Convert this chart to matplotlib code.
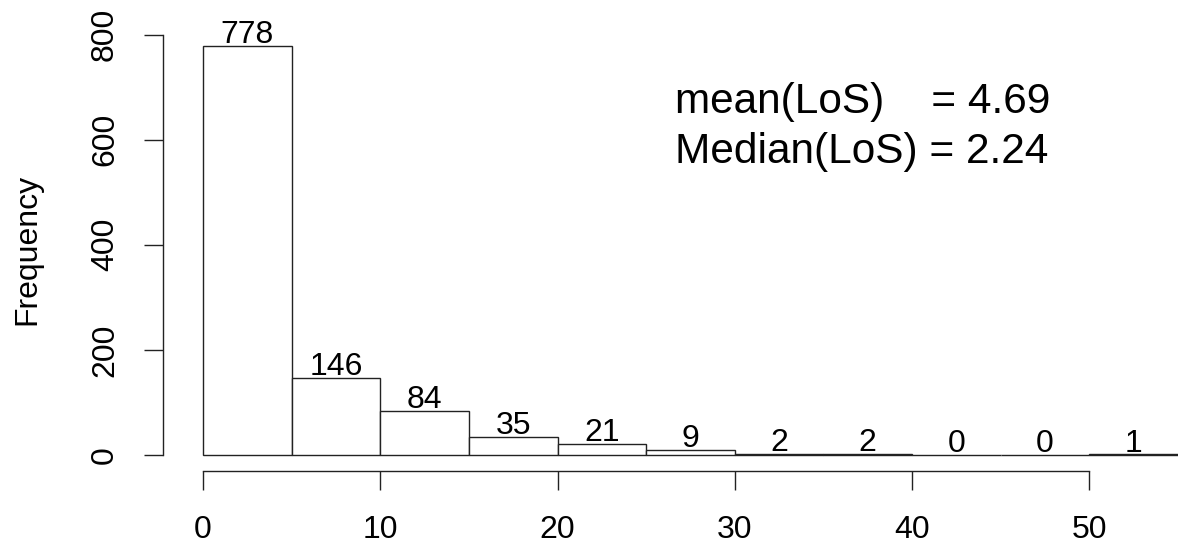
import numpy as np
import matplotlib
matplotlib.use("Agg")
import matplotlib.pyplot as plt

plt.rcParams['font.family'] = ['Liberation Sans', 'DejaVu Sans']

# histogram of length of stay, bins of width 5
bin_edges = [0, 5, 10, 15, 20, 25, 30, 35, 40, 45, 50, 55]
counts = [778, 146, 84, 35, 21, 9, 2, 2, 0, 0, 1]
xticks = [0, 10, 20, 30, 40, 50]
yticks = [0, 200, 400, 600, 800]
stats_lines = ["mean(LoS)    = 4.69", "Median(LoS) = 2.24"]

W, H = 1178, 545
fig = plt.figure(figsize=(W / 100, H / 100), dpi=100)
ax = fig.add_axes([203 / W, (H - 455) / H, 975 / W, (455 - 34.5) / H])

edges = np.array(bin_edges)
lefts = edges[:-1]
widths = np.diff(edges)
ax.bar(lefts, counts, width=widths, align='edge', facecolor='white',
       edgecolor='#222222', linewidth=1.0, clip_on=False)

# count labels above the bars
for x, w, c in zip(lefts, widths, counts):
    ax.annotate(str(c), (x + w / 2, c), xytext=(0, 2), textcoords='offset points',
                ha='center', va='baseline', fontsize=23)

ax.set_xlim(0, 55)
ax.set_ylim(0, 800)

for s in ['top', 'right']:
    ax.spines[s].set_visible(False)
ax.spines['left'].set_position(('outward', 28.8))
ax.spines['bottom'].set_position(('outward', 11.5))
ax.spines['left'].set_bounds(0, 800)
ax.spines['bottom'].set_bounds(0, 50)
for s in ['left', 'bottom']:
    ax.spines[s].set_linewidth(1.0)
    ax.spines[s].set_color('#222222')

ax.set_xticks(xticks)
ax.set_yticks(yticks)
ax.tick_params(axis='both', direction='out', length=14, width=1.0,
               color='#222222', labelsize=23)
ax.tick_params(axis='x', pad=18)
ax.tick_params(axis='y', pad=17)
for lab in ax.get_yticklabels():
    lab.set_rotation(90)
    lab.set_va('center')

ax.set_ylabel('Frequency', fontsize=23)
ax.yaxis.set_label_coords((42 - 203) / 975, 0.49)

ax.text(26.6, 650, stats_lines[0], fontsize=30.5, ha='left', va='baseline')
ax.text(26.6, 555, stats_lines[1], fontsize=30.5, ha='left', va='baseline')

fig.savefig('out.png', dpi=100)
